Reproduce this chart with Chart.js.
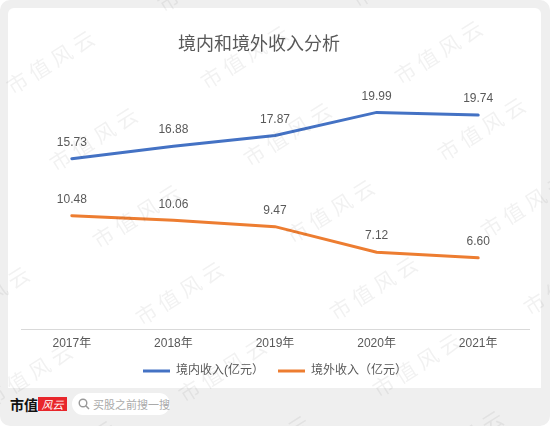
<!DOCTYPE html>
<html>
<head>
<meta charset="utf-8">
<script src="https://cdn.jsdelivr.net/npm/chart.js@4.4.0/dist/chart.umd.min.js"></script>
<style>
  html, body { margin: 0; padding: 0; background: #fff; }
  #frame { position: relative; width: 550px; height: 426px; background: #efefef; border-radius: 10px; overflow: hidden; }
  #card { position: absolute; left: 8px; top: 8px; width: 533px; height: 380px; background: #fff; border-radius: 6px 6px 0 0; }
  #marks { position: absolute; left: 0; top: 0; width: 550px; height: 426px; pointer-events: none; overflow: hidden; }
  #marks span { position: absolute; font: 21px "Noto Sans CJK SC", sans-serif; letter-spacing: 5px; color: rgba(0,0,0,0.055); white-space: nowrap; transform: translate(-50%, -50%) rotate(-32deg); }
  #logo { position: absolute; left: 10px; top: 396px; font: bold 14px "Noto Sans CJK SC", sans-serif; color: #111; line-height: 16px; }
  #logoRed { position: absolute; left: 38px; top: 397px; width: 29px; height: 14px; background: #e8262b; color: #fff; font: italic 11px "Noto Sans CJK SC", sans-serif; line-height: 14px; text-align: center; }
  #search { position: absolute; left: 72px; top: 393px; width: 98px; height: 22px; background: #fff; border-radius: 11px; }
  #search svg { position: absolute; left: 6px; top: 5px; }
  #search span { position: absolute; left: 21px; top: 4px; font: 11px "Noto Sans CJK SC", sans-serif; color: #aaa; line-height: 14px; }
</style>
</head>
<body>
<div id="frame">
  <div id="card"><canvas id="chart"></canvas></div>
  <div id="logo">市值</div>
  <div id="logoRed">风云</div>
  <div id="search">
    <svg width="12" height="12" viewBox="0 0 12 12"><circle cx="5" cy="5" r="3.8" fill="none" stroke="#999" stroke-width="1.4"/><line x1="7.8" y1="7.8" x2="11" y2="11" stroke="#999" stroke-width="1.5"/></svg>
    <span>买股之前搜一搜</span>
  </div>
  <div id="marks"></div>
</div>
<script>
// data
const title = "境内和境外收入分析";
const years = ["2017年", "2018年", "2019年", "2020年", "2021年"];
const domesticName = "境内收入(亿元）";
const domestic = [15.73, 16.88, 17.87, 19.99, 19.74];
const overseasName = "境外收入（亿元）";
const overseas = [10.48, 10.06, 9.47, 7.12, 6.60];

const FONT = "'Liberation Sans', 'Noto Sans CJK SC', sans-serif";
const TEXT = "#595959";

// watermark "市值风云"
const marks = document.getElementById("marks");
for (let i = -2; i < 5; i++) {
  for (let j = -2; j < 7; j++) {
    const x = 52 + 194 * i + 43 * j;
    const y = 60 - 5 * i + 77 * j;
    if (x < -60 || x > 610 || y < -40 || y > 470) continue;
    const s = document.createElement("span");
    s.textContent = "市值风云";
    s.style.left = x + "px";
    s.style.top = y + "px";
    marks.appendChild(s);
  }
}

// title drawn a bit left of center, like the original
const titlePlugin = {
  id: "titleText",
  afterDraw(chart) {
    const ctx = chart.ctx;
    ctx.save();
    ctx.font = "18px 'Noto Sans CJK SC', sans-serif";
    ctx.fillStyle = TEXT;
    ctx.textAlign = "center";
    ctx.textBaseline = "middle";
    ctx.fillText(title, 251, 35);
    ctx.restore();
  }
};

// value labels above each point
const valueLabels = {
  id: "valueLabels",
  afterDatasetsDraw(chart) {
    const ctx = chart.ctx;
    ctx.save();
    ctx.font = "12px " + FONT;
    ctx.fillStyle = TEXT;
    ctx.textAlign = "center";
    ctx.textBaseline = "middle";
    chart.data.datasets.forEach((ds, i) => {
      chart.getDatasetMeta(i).data.forEach((pt, j) => {
        ctx.fillText(ds.data[j].toFixed(2), pt.x, pt.y - 16);
      });
    });
    ctx.restore();
  }
};

new Chart(document.getElementById("chart"), {
  type: "line",
  data: {
    labels: years,
    datasets: [
      { label: domesticName, data: domestic, borderColor: "#4472C4", backgroundColor: "#4472C4",
        borderWidth: 3, pointRadius: 0, tension: 0, borderCapStyle: "round" },
      { label: overseasName, data: overseas, borderColor: "#ED7D31", backgroundColor: "#ED7D31",
        borderWidth: 3, pointRadius: 0, tension: 0, borderCapStyle: "round" }
    ]
  },
  options: {
    responsive: true,
    maintainAspectRatio: false,
    animation: false,
    layout: { padding: { top: 50, left: 13, right: 12, bottom: 1 } },
    plugins: {
      title: { display: false },
      tooltip: { enabled: false },
      legend: {
        position: "bottom",
        maxHeight: 36,
        labels: {
          usePointStyle: true,
          pointStyle: "line",
          pointStyleWidth: 27,
          color: TEXT,
          padding: 14,
          font: { size: 12, family: FONT }
        }
      }
    },
    scales: {
      x: {
        offset: true,
        grid: { display: false, drawTicks: false },
        border: { display: true, color: "#d9d9d9", width: 1 },
        ticks: { color: TEXT, padding: 8.5, font: { size: 12, family: FONT, lineHeight: 1 } },
        afterFit(scale) { scale.height = 21.5; }
      },
      y: { display: false, min: 0, max: 25 }
    }
  },
  plugins: [titlePlugin, valueLabels]
});
</script>
</body>
</html>
